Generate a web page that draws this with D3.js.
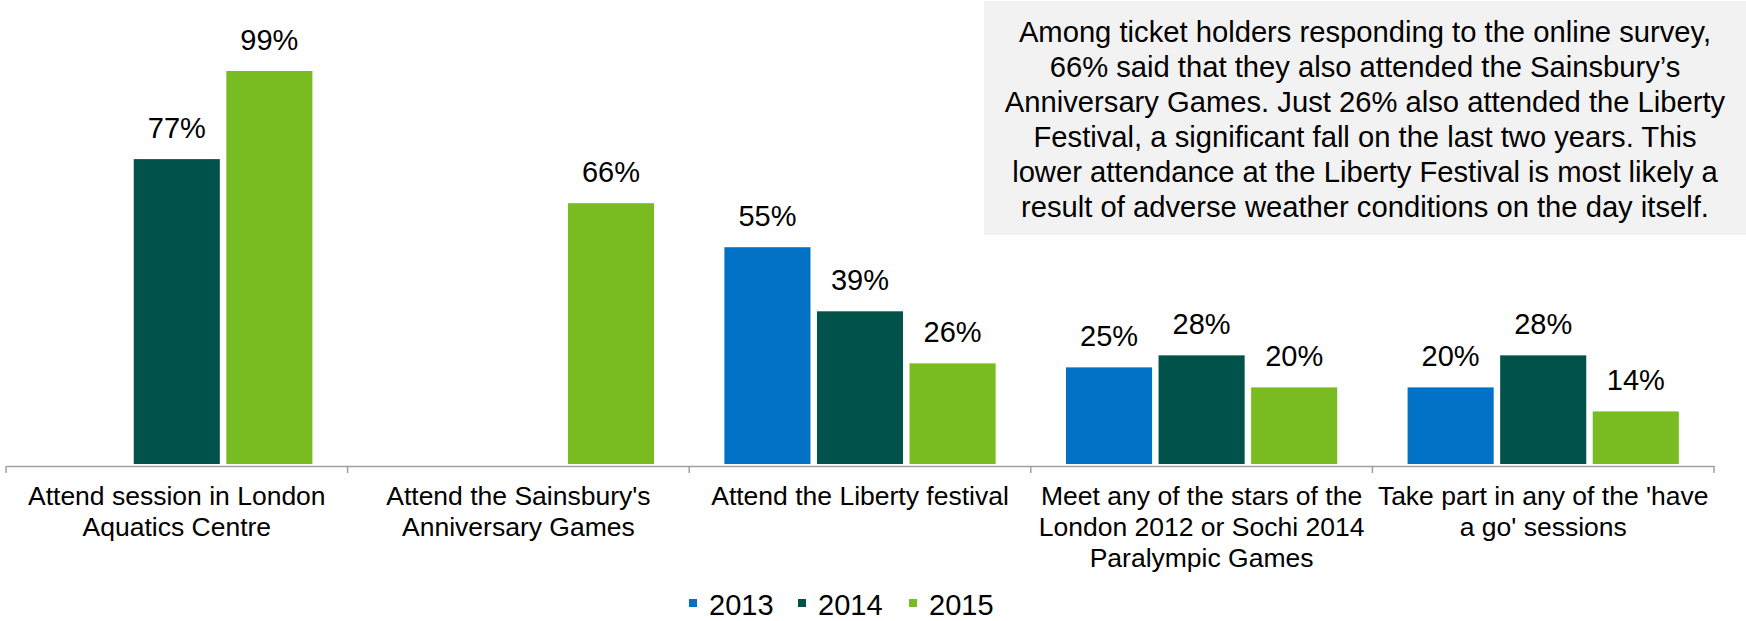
<!DOCTYPE html>
<html>
<head>
<meta charset="utf-8">
<script src="https://cdn.jsdelivr.net/npm/d3@7"></script>
<style>
  html, body { margin: 0; padding: 0; background: #fff; }
  svg { display: block; font-family: "Liberation Sans", Arial, sans-serif; }
</style>
</head>
<body>
<svg id="chart" width="1746" height="621"></svg>
<script>
// ---- data ----
const categories = [
  "Attend session in London\nAquatics Centre",
  "Attend the Sainsbury's\nAnniversary Games",
  "Attend the Liberty festival",
  "Meet any of the stars of the\nLondon 2012 or Sochi 2014\nParalympic Games",
  "Take part in any of the 'have\na go' sessions"
];
const seriesNames = ["2013", "2014", "2015"];
const values2013 = [null, null, 55, 25, 20];
const values2014 = [77, null, 39, 28, 28];
const values2015 = [99, 66, 26, 20, 14];
const seriesColors = ["#0071C5", "#01524B", "#79BC21"];
const noteLines = [
  "Among ticket holders responding to the online survey,",
  "66% said that they also attended the Sainsbury\u2019s",
  "Anniversary Games. Just 26% also attended the Liberty",
  "Festival, a significant fall on the last two years. This",
  "lower attendance at the Liberty Festival is most likely a",
  "result of adverse weather conditions on the day itself."
];

// ---- layout ----
const svg = d3.select("#chart");
const seriesValues = [values2013, values2014, values2015];

const x0 = d3.scaleBand().domain(categories).range([6, 1714]).padding(0);
const x1 = d3.scaleBand().domain(seriesNames).range([0, x0.bandwidth()])
  .paddingInner(0.07).paddingOuter(0.38);
const y = d3.scaleLinear().domain([0, 100]).range([467.5, 67]);
const color = d3.scaleOrdinal().domain(seriesNames).range(seriesColors);

const axisY = 466;

// annotation box
const note = svg.append("g");
note.append("rect").attr("x", 984).attr("y", 1).attr("width", 762).attr("height", 234)
  .attr("fill", "#F2F2F2");
note.append("text").attr("text-anchor", "middle").attr("font-size", 29.2).attr("fill", "#000")
  .selectAll("tspan").data(noteLines).join("tspan")
  .attr("x", 1365).attr("y", (d, i) => 42 + i * 35).text(d => d);

// bars
const flat = [];
categories.forEach((c, ci) => {
  seriesNames.forEach((s, si) => {
    const v = seriesValues[si][ci];
    if (v != null) flat.push({ c, s, v });
  });
});

const bars = svg.append("g");
bars.selectAll("rect").data(flat).join("rect")
  .attr("x", d => x0(d.c) + x1(d.s))
  .attr("width", x1.bandwidth())
  .attr("y", d => y(d.v))
  .attr("height", d => axisY - 2 - y(d.v))
  .attr("fill", d => color(d.s));

bars.selectAll("text").data(flat).join("text")
  .attr("x", d => x0(d.c) + x1(d.s) + x1.bandwidth() / 2)
  .attr("y", d => y(d.v) - 21)
  .attr("text-anchor", "middle")
  .attr("font-size", 29)
  .attr("fill", "#000")
  .text(d => d.v + "%");

// x axis
const axisG = svg.append("g").attr("transform", `translate(0,${axisY})`)
  .call(d3.axisBottom(x0).tickSize(0).tickFormat(""));
axisG.select(".domain").attr("stroke", "#A0A0A0").attr("stroke-width", 1.5);
const bounds = categories.map(c => x0(c)).concat([x0.range()[1]]);
axisG.selectAll(".bound").data(bounds).join("line").attr("class", "bound")
  .attr("x1", d => d).attr("x2", d => d).attr("y1", 0).attr("y2", 7)
  .attr("stroke", "#A0A0A0").attr("stroke-width", 1.5);

// category labels
svg.append("g").selectAll("text").data(categories).join("text")
  .attr("text-anchor", "middle").attr("font-size", 26.5).attr("fill", "#000")
  .each(function(c) {
    const lines = c.split("\n");
    d3.select(this).selectAll("tspan").data(lines).join("tspan")
      .attr("x", x0(c) + x0.bandwidth() / 2)
      .attr("y", (d, i) => 505 + i * 31)
      .text(d => d);
  });

// legend
const legendX = [689, 798, 909];
const leg = svg.append("g").selectAll("g").data(seriesNames).join("g")
  .attr("transform", (d, i) => `translate(${legendX[i]},0)`);
leg.append("rect").attr("x", 0).attr("y", 599).attr("width", 8).attr("height", 8)
  .attr("fill", d => color(d));
leg.append("text").attr("x", 20).attr("y", 615).attr("font-size", 29).attr("fill", "#000")
  .text(d => d);
</script>
</body>
</html>
